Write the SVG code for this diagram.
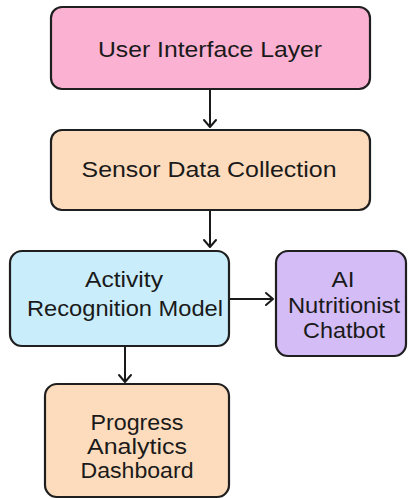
<svg xmlns="http://www.w3.org/2000/svg" width="408" height="499" viewBox="0 0 408 499">
<style>
.box{stroke:#1f1f1f;stroke-width:2.2}
.t{font-family:"Liberation Sans",Arial,sans-serif;font-size:22.5px;fill:#1a1a1a;text-anchor:middle}
.c{fill:none;stroke:#1a1a1a;stroke-width:2}
.h{fill:none;stroke:#1a1a1a;stroke-width:2;stroke-linecap:round;stroke-linejoin:round}
</style>
<rect width="408" height="499" fill="#ffffff"/>
<g id="connectors">
<line class="c" x1="210" y1="89" x2="210" y2="127"/>
<polyline class="h" points="204,120 210,127 216,120"/>
<line class="c" x1="210" y1="210" x2="210" y2="247"/>
<polyline class="h" points="204,240 210,247 216,240"/>
<line class="c" x1="229" y1="299" x2="273" y2="299"/>
<polyline class="h" points="266,293 273,299 266,305"/>
<line class="c" x1="125" y1="346" x2="125" y2="382"/>
<polyline class="h" points="119,375 125,382 131,375"/>
</g>
<g id="user-interface-layer">
<rect class="box" x="51" y="7" width="319" height="82" rx="11" fill="#fbb1d1"/>
<text class="t" x="210" y="57" textLength="224" lengthAdjust="spacingAndGlyphs">User Interface Layer</text>
</g>
<g id="sensor-data-collection">
<rect class="box" x="51" y="130" width="319" height="80" rx="11" fill="#fddcbd"/>
<text class="t" x="209" y="177" textLength="255" lengthAdjust="spacingAndGlyphs">Sensor Data Collection</text>
</g>
<g id="activity-recognition-model">
<rect class="box" x="10" y="251" width="219" height="95" rx="12" fill="#c9edfb"/>
<text class="t" x="124" y="287" textLength="78" lengthAdjust="spacingAndGlyphs">Activity</text>
<text class="t" x="125" y="316" textLength="196" lengthAdjust="spacingAndGlyphs">Recognition Model</text>
</g>
<g id="ai-nutritionist-chatbot">
<rect class="box" x="276" y="251" width="130" height="105" rx="12" fill="#d4bcf6"/>
<text class="t" x="343" y="287" textLength="23" lengthAdjust="spacingAndGlyphs">AI</text>
<text class="t" x="344" y="313" textLength="112" lengthAdjust="spacingAndGlyphs">Nutritionist</text>
<text class="t" x="344" y="338" textLength="82" lengthAdjust="spacingAndGlyphs">Chatbot</text>
</g>
<g id="progress-analytics-dashboard">
<rect class="box" x="45" y="384" width="184" height="113" rx="12" fill="#fddcbd"/>
<text class="t" x="137" y="430" textLength="93" lengthAdjust="spacingAndGlyphs">Progress</text>
<text class="t" x="137" y="454" textLength="100" lengthAdjust="spacingAndGlyphs">Analytics</text>
<text class="t" x="137" y="478" textLength="113" lengthAdjust="spacingAndGlyphs">Dashboard</text>
</g>
</svg>
